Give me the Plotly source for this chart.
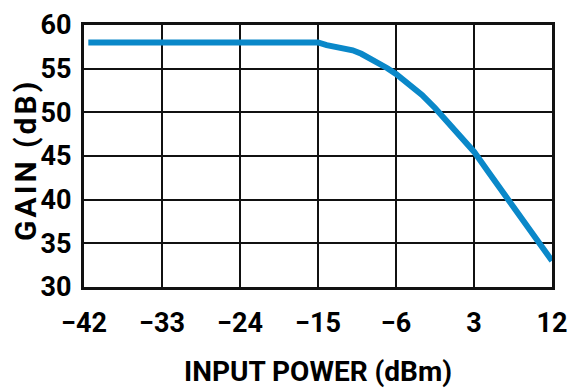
import plotly.graph_objects as go

input_power = [-41.5, -15, -14, -13, -12, -11, -10, -9, -8, -7, -6, -4.5, -3, -1.5, 0, 1.5, 3, 4.5, 6, 7.5, 9, 10.5, 12]
gain = [58, 58, 57.7, 57.5, 57.35, 57.1, 56.7, 56.2, 55.6, 55.05, 54.4, 53.3, 52.0, 50.5, 48.9, 47.2, 45.5, 43.4, 41.3, 39.2, 37.2, 35.1, 33.0]

x_ticks = [-42, -33, -24, -15, -6, 3, 12]
y_ticks = [30, 35, 40, 45, 50, 55, 60]

FONT = "Roboto"

fig = go.Figure()
fig.add_trace(go.Scatter(
    x=input_power, y=gain, mode="lines",
    line=dict(color="#0a88c9", width=6),
    showlegend=False, hoverinfo="skip",
))

axis_common = dict(
    showgrid=True, gridcolor="#111111", gridwidth=2,
    showline=True, linecolor="#111111", linewidth=3, mirror=True,
    zeroline=False, ticks="", automargin=False,
    tickfont=dict(family=FONT, size=27, color="black", weight="bold"),
)

fig.update_layout(
    width=571, height=388,
    margin=dict(l=84, r=19, t=25, b=101),
    paper_bgcolor="white", plot_bgcolor="white",
    xaxis=dict(range=[-42, 12], tickvals=x_ticks, ticktext=[str(v).replace("-", "\u2212") for v in x_ticks],
               ticklabelstandoff=10, **axis_common),
    yaxis=dict(range=[30, 60], tickvals=y_ticks, ticktext=[str(v) for v in y_ticks],
               ticklabelstandoff=4, **axis_common),
    annotations=[
        dict(text="INPUT POWER (dBm)", xref="paper", yref="paper", x=0.5, y=-0.324,
             xanchor="center", yanchor="middle", showarrow=False,
             font=dict(family=FONT, size=28, color="black", weight="bold")),
        dict(text='<span style="letter-spacing:3px">GAIN (dB)</span>', xref="paper", yref="paper",
             x=-0.124, y=0.485,
             xanchor="center", yanchor="middle", showarrow=False, textangle=-90,
             font=dict(family=FONT, size=30, color="black", weight="bold")),
    ],
)

fig.write_html("out.html", config={"displayModeBar": False},
               post_script="document.body.style.margin='0px';document.body.style.padding='0px';")
